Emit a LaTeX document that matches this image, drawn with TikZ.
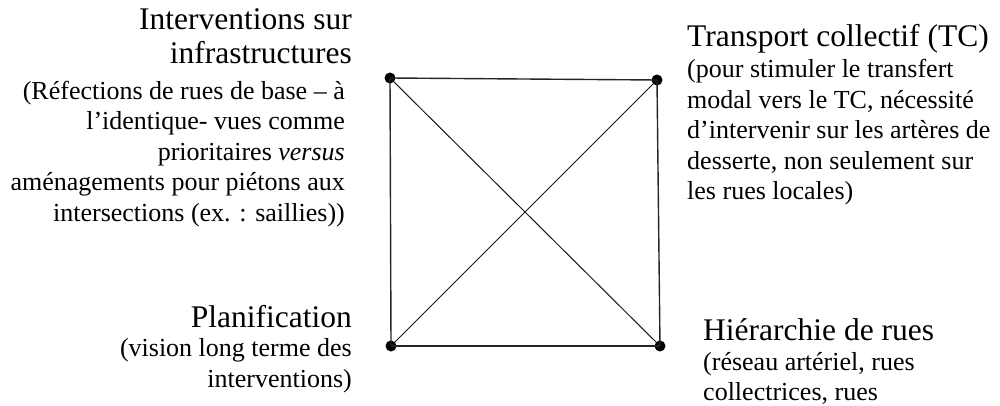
\documentclass[tikz,border=0pt]{standalone}
\usepackage{fontspec}
\setmainfont{Liberation Serif}
\begin{document}
\begin{tikzpicture}[x=1pt,y=-1pt,
  dot/.style={circle,fill=black,inner sep=0pt,minimum size=11pt},
  edge/.style={draw=black!85,line width=1.4pt},
  diag/.style={draw=black!90,line width=1pt},
  title/.style={inner sep=0pt,font=\fontsize{31.5}{34}\selectfont},
  desc/.style={inner sep=0pt,font=\fontsize{26}{30.5}\selectfont}]
\useasboundingbox (0,0) rectangle (1000,406);
% corner points
\node[dot] (tl) at (390,78) {};
\node[dot] (tr) at (657,80) {};
\node[dot] (bl) at (391,346) {};
\node[dot] (br) at (660,346) {};
% square sides
\draw[edge] (tl.center) -- (tr.center);
\draw[edge] (tl.center) -- (bl.center);
\draw[edge] (bl.center) -- (br.center);
\draw[edge] (tr.center) -- (br.center);
% diagonals
\draw[diag] (tl.center) -- (br.center);
\draw[diag] (bl.center) -- (tr.center);
% labels (base anchor = baseline of the last line)
\node[title,anchor=base east,align=right] (t1) at (352,64) {Interventions sur\\infrastructures};
\node[desc,anchor=base east,align=right] (d1) at (345,221) {(Réfections de rues de base – à\\l’identique- vues comme\\prioritaires \textit{versus}\\aménagements pour piétons aux\\intersections (ex. : saillies))};
\node[title,anchor=base west,align=left] (t2) at (687,47) {Transport collectif (TC)};
\node[desc,anchor=base west,align=left] (d2) at (687,200) {(pour stimuler le transfert\\modal vers le TC, nécessité\\d’intervenir sur les artères de\\desserte, non seulement sur\\les rues locales)};
\node[title,anchor=base east,align=right] (t3) at (352,327) {Planification};
\node[desc,anchor=base east,align=right] (d3) at (352,387) {(vision long terme des\\interventions)};
\node[title,anchor=base west,align=left] (t4) at (703,340) {Hiérarchie de rues};
\node[desc,anchor=base west,align=left] (d4) at (703,400.5) {(réseau artériel, rues\\collectrices, rues};
\end{tikzpicture}
\end{document}
